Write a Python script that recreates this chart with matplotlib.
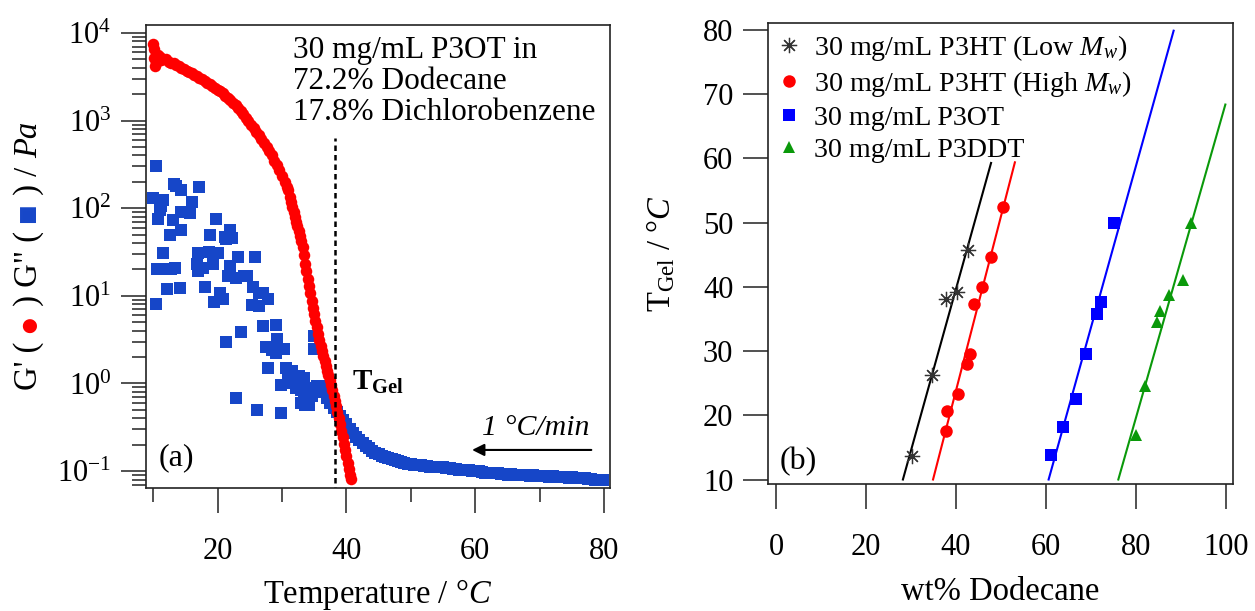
import numpy as np
import matplotlib as mpl
mpl.use('Agg')
from matplotlib import pyplot as plt
from matplotlib.ticker import FixedLocator, LogLocator, NullFormatter

plt.rcParams['font.family'] = ['Liberation Serif', 'DejaVu Sans']
plt.rcParams['mathtext.fontset'] = 'custom'
plt.rcParams['mathtext.rm'] = 'Liberation Serif'
plt.rcParams['mathtext.it'] = 'Liberation Serif:italic'
plt.rcParams['mathtext.bf'] = 'Liberation Serif:bold'

# ---- panel (a): rheology of 30 mg/mL P3OT, G' and G'' vs temperature
gp_T = [10.0, 10.1, 10.2, 10.3, 10.5, 10.7, 11.0, 11.3, 11.6, 12.0, 12.4, 12.8, 13.2, 13.6,
        14.0, 14.4, 14.8, 15.2, 15.6, 16.0, 16.4, 16.8, 17.2, 17.6, 18.0, 18.4, 18.8, 19.2,
        19.6, 20.0, 20.4, 20.8, 21.2, 21.6, 22.0, 22.4, 22.8, 23.2, 23.6, 24.0, 24.4, 24.8,
        25.2, 25.6, 26.0, 26.4, 26.8, 27.2, 27.6, 28.0, 28.4, 28.8, 29.2, 29.6, 30.0, 30.4,
        30.8, 31.0, 31.2, 31.4, 31.6, 31.8, 32.0, 32.2, 32.4, 32.6, 32.8, 33.0, 33.2, 33.4,
        33.6, 33.8, 34.0, 34.2, 34.4, 34.6, 34.8, 35.0, 35.2, 35.4, 35.6, 35.8, 36.0, 36.2,
        36.4, 36.6, 36.8, 37.0, 37.2, 37.4, 37.6, 37.8, 38.0, 38.2, 38.4, 38.6, 38.8, 39.0,
        39.2, 39.4, 39.6, 39.8, 40.0, 40.2, 40.4, 40.6, 40.7]
gp_val = [7500, 6500, 5200, 4200, 4600, 5600, 5300, 4900, 5100, 5000, 4700, 4600, 4500, 4300,
          4250, 4000, 3900, 3700, 3600, 3450, 3300, 3250, 3100, 2950, 2850, 2700, 2600, 2450,
          2350, 2250, 2150, 2050, 1900, 1800, 1700, 1600, 1500, 1400, 1300, 1200, 1080, 980,
          900, 820, 750, 680, 620, 560, 500, 450, 400, 350, 310, 270, 230, 200,
          175, 160, 135, 118, 102, 90, 80, 70, 62, 55, 48, 42, 36, 29,
          23, 19, 15.5, 13, 10.8, 8.8, 7.3, 6.2, 5.2, 4.4, 3.7, 3.1, 2.7, 2.35,
          2.05, 1.8, 1.6, 1.4, 1.25, 1.1, 0.95, 0.83, 0.72, 0.63, 0.55, 0.47, 0.40, 0.34,
          0.29, 0.245, 0.205, 0.175, 0.148, 0.125, 0.105, 0.089, 0.082]

# noisy G'' below the gel point
gpp_noise_T = [10.4, 13.6, 17.2, 10.05, 11.2, 13.25, 11.6, 14.4, 16.0, 15.7, 14.4, 13.1, 11.1,
               10.8, 14.4, 12.6, 19.75, 18.8, 21.9, 21.1, 22.2, 11.6, 17.0, 18.6, 20.1, 23.2,
               25.8, 10.6, 13.4, 16.8, 17.8, 19.3, 21.9, 21.7, 24.5, 12.1, 14.2, 18.0, 25.5,
               27.1, 20.4, 11.0, 12.8, 21.3, 16.9, 10.5, 19.5, 20.8, 22.8, 24.1, 26.5, 27.8,
               25.4, 26.5, 23.6, 21.3, 27.0, 29.0, 29.3, 27.5, 28.5, 30.3, 29.0, 27.8, 30.6,
               31.6, 31.1, 32.6, 33.4, 29.8, 31.6, 22.8, 26.2, 29.8, 33.4, 32.9, 34.2, 34.7,
               35.0, 35.0, 31.0, 32.0, 32.2, 33.0, 33.8, 34.0, 33.6]
gpp_noise_val = [305, 178, 174, 132, 105, 190, 123, 162, 117, 87, 91, 74, 95,
                 76, 56, 49, 76, 49, 56, 47, 46, 31, 31, 32, 31, 28,
                 28, 20, 21, 23, 21, 23, 22, 17, 17, 12, 12.3, 12.6, 12.6,
                 10.7, 10.7, 20, 20, 44, 19, 8.1, 8.5, 9.3, 16, 17, 10.7, 9.3,
                 7.8, 7.6, 3.9, 3.0, 4.5, 4.7, 3.2, 2.6, 2.4, 2.5, 2.2, 1.5, 1.5,
                 1.4, 1.2, 1.2, 1.15, 0.95, 1.0, 0.68, 0.50, 0.46, 0.78, 0.59, 0.56, 0.71,
                 3.5, 2.5, 1.3, 1.1, 0.89, 0.83, 0.89, 0.71, 0.56]

# smooth G'' above the gel point
gpp_T = [35.0, 35.5, 36.0, 36.5, 37.0, 37.5, 38.0, 38.5, 39.0, 39.5, 40.0, 40.5, 41.0, 41.5,
         42.0, 42.5, 43.0, 43.5, 44.0, 44.5, 45.0, 45.5, 46.0, 46.5, 47.0, 47.5, 48.0, 48.5,
         49.0, 49.5, 50.0, 50.5, 51.0, 51.5, 52.0, 52.5, 53.0, 53.5, 54.0, 54.5, 55.0, 55.5,
         56.0, 56.5, 57.0, 57.5, 58.0, 58.5, 59.0, 59.5, 60.0, 60.5, 61.0, 61.5, 62.0, 62.5,
         63.0, 63.5, 64.0, 64.5, 65.0, 65.5, 66.0, 66.5, 67.0, 67.5, 68.0, 68.5, 69.0, 69.5,
         70.0, 70.5, 71.0, 71.5, 72.0, 72.5, 73.0, 73.5, 74.0, 74.5, 75.0, 75.5, 76.0, 76.5,
         77.0, 77.5, 78.0, 78.5, 79.0, 79.5, 79.8]
gpp_val = [0.83, 0.93, 0.93, 0.79, 0.69, 0.60, 0.52, 0.47, 0.42, 0.38, 0.34, 0.30, 0.27, 0.245,
           0.224, 0.209, 0.195, 0.182, 0.170, 0.162, 0.155, 0.150, 0.145, 0.140, 0.136, 0.132,
           0.129, 0.126, 0.123, 0.121, 0.120, 0.118, 0.117, 0.116, 0.115, 0.113, 0.112, 0.111,
           0.110, 0.111, 0.110, 0.108, 0.107, 0.106, 0.105, 0.104, 0.102, 0.103, 0.102, 0.101,
           0.100, 0.099, 0.098, 0.096, 0.095, 0.096, 0.095, 0.094, 0.093, 0.092, 0.091, 0.092,
           0.091, 0.090, 0.089, 0.090, 0.089, 0.088, 0.089, 0.088, 0.087, 0.088, 0.087, 0.086,
           0.087, 0.086, 0.085, 0.086, 0.085, 0.084, 0.085, 0.084, 0.083, 0.084, 0.083, 0.082,
           0.081, 0.080, 0.079, 0.079, 0.078]

t_gel = 38.2
t_gel_line_top = 630

# ---- panel (b): gel temperature vs wt% dodecane
low_wt = [30.2, 34.6, 37.8, 40.2, 42.7]
low_T = [13.7, 26.2, 38.1, 39.2, 45.7]
low_fit_wt = [28.2, 47.8]
low_fit_T = [10, 59.3]

high_wt = [37.7, 38.1, 40.5, 42.5, 43.1, 44.1, 45.7, 47.8, 50.4]
high_T = [17.5, 20.7, 23.3, 28.0, 29.5, 37.3, 40.0, 44.6, 52.5]
high_fit_wt = [34.9, 53.1]
high_fit_T = [10, 59.4]

p3ot_wt = [61.1, 63.9, 66.6, 69.0, 71.3, 72.2, 75.1]
p3ot_T = [13.8, 18.1, 22.6, 29.5, 35.8, 37.6, 49.9]
p3ot_fit_wt = [60.6, 88.4]
p3ot_fit_T = [10, 79.9]

p3ddt_wt = [80.1, 82.1, 84.6, 85.3, 87.3, 90.5, 92.2]
p3ddt_T = [16.9, 24.5, 34.5, 36.2, 38.7, 41.1, 49.9]
p3ddt_fit_wt = [76.1, 99.9]
p3ddt_fit_T = [10, 68.4]

series_labels = ['30 mg/mL P3HT (Low $M_w$)', '30 mg/mL P3HT (High $M_w$)',
                 '30 mg/mL P3OT', '30 mg/mL P3DDT']

W, H = 1255, 611
fig = plt.figure(figsize=(W / 100, H / 100), dpi=100)
ax1 = fig.add_axes([146 / W, 1 - 488 / H, 464 / W, 463 / H])
ax2 = fig.add_axes([768 / W, 1 - 484 / H, 465 / W, 461 / H])

RED = '#ff0000'
BLUE_A = '#1646c8'

for ax in (ax1, ax2):
    for sp in ax.spines.values():
        sp.set_linewidth(1.2)
        sp.set_color('#222222')
    ax.tick_params(which='major', direction='out', length=18, width=1.1,
                   labelsize=22, color='#222222')
    ax.tick_params(which='minor', direction='out', length=10, width=1.1, color='#222222')
    ax.tick_params(axis='x', which='major', pad=17)
    ax.tick_params(axis='y', which='major', pad=7)

# panel (a)
ax1.plot(gpp_noise_T, gpp_noise_val, 's', color=BLUE_A, ms=8, mew=0)
ax1.plot(gpp_T, gpp_val, 's', color=BLUE_A, ms=9, mew=0)
ax1.plot(gp_T, gp_val, 'o', color=RED, ms=8.3, mew=0)
ax1.vlines(t_gel, 0.01, t_gel_line_top, colors='black', linestyles=(0, (2.2, 1.6)), lw=1.8)
ax1.set_yscale('log')
ax1.set_xlim(8.9, 80.9)
ax1.set_ylim(0.064, 12330)
ax1.xaxis.set_major_locator(FixedLocator([20, 40, 60, 80]))
ax1.xaxis.set_minor_locator(FixedLocator([10, 30, 50, 70]))
ax1.yaxis.set_major_locator(LogLocator(base=10, numticks=10))
ax1.yaxis.set_minor_locator(LogLocator(base=10, subs=np.arange(2, 10), numticks=20))
ax1.yaxis.set_minor_formatter(NullFormatter())
ax1.set_xlabel('Temperature / °$\\mathit{C}$', fontsize=23.5)
ax1.xaxis.set_label_coords(0.5, (488 - 577) / 463)

ax1.text(0.316, 0.976, '30 mg/mL P3OT in\n72.2% Dodecane\n17.8% Dichlorobenzene',
         transform=ax1.transAxes, ha='left', va='top', fontsize=22.5, linespacing=1.08)
ax1.text(0.444, 0.212, r'$\mathbf{T_{Gel}}$', transform=ax1.transAxes,
         ha='left', va='baseline', fontsize=21)
ax1.text(0.028, 0.05, '(a)', transform=ax1.transAxes, ha='left', va='baseline', fontsize=23)
ax1.text(69.4, 0.257, '1 °C/min', ha='center', va='baseline', fontsize=21.5, style='italic')
ax1.annotate('', xy=(59.5, 0.174), xytext=(78, 0.174),
             arrowprops=dict(arrowstyle='-|>', color='black', lw=1.5, mutation_scale=18,
                             shrinkA=0, shrinkB=0))

# panel (b)
ax2.plot(low_fit_wt, low_fit_T, color='black', lw=1.5)
ax2.plot(high_fit_wt, high_fit_T, color=RED, lw=1.5)
ax2.plot(p3ot_fit_wt, p3ot_fit_T, color='#0000ff', lw=1.5)
ax2.plot(p3ddt_fit_wt, p3ddt_fit_T, color='#0a990a', lw=1.5)
ax2.plot(low_wt, low_T, ls='none', marker=(8, 2, 0), color='#333333', ms=11, mew=0.9,
         label=series_labels[0])
ax2.plot(high_wt, high_T, 'o', color=RED, ms=9, mew=0, label=series_labels[1])
ax2.plot(p3ot_wt, p3ot_T, 's', color='#0000ff', ms=8.5, mew=0, label=series_labels[2])
ax2.plot(p3ddt_wt, p3ddt_T, '^', color='#0a990a', ms=9, mew=0, label=series_labels[3])
ax2.set_xlim(-1.8, 101.6)
ax2.set_ylim(9.3, 81.1)
ax2.set_xticks([0, 20, 40, 60, 80, 100])
ax2.set_yticks([10, 20, 30, 40, 50, 60, 70, 80])
ax2.set_xlabel('wt% Dodecane', fontsize=23.5)
ax2.xaxis.set_label_coords(0.5, (484 - 577) / 461)
ax2.set_ylabel(r'$\mathrm{T}_{\mathrm{Gel}}$ / °$\mathit{C}$', fontsize=23.5)
ax2.yaxis.set_label_coords((677 - 768) / 465, 0.5)
ax2.text(0.026, 0.033, '(b)', transform=ax2.transAxes, ha='left', va='baseline', fontsize=23)
ax2.legend(loc='upper left', bbox_to_anchor=(0.0, 1.0), frameon=False, fontsize=20.2,
           handlelength=0.8, handletextpad=0.5, labelspacing=0.22, borderaxespad=0.15,
           borderpad=0.2, numpoints=1)

# left y label with coloured marker glyphs, stacked along the vertical
renderer = fig.canvas.get_renderer()
pieces = [("G' ( ", 'black', {}), ('\u25cf', RED, {}), (' ) G" ( ', 'black', {}),
          ('\u25a0', BLUE_A, {}), (' ) / ', 'black', {}), ('Pa', 'black', {'style': 'italic'})]
texts = []
for s, c, kw in pieces:
    t = fig.text(37 / W, 0, s, color=c, rotation=90, rotation_mode='anchor',
                 ha='left', va='baseline', fontsize=23.5, **kw)
    texts.append(t)
heights = [t.get_window_extent(renderer).height / H for t in texts]
y = (1 - 256 / H) - sum(heights) / 2
for t, h in zip(texts, heights):
    t.set_y(y)
    y += h

fig.savefig('out.png', dpi=100)
